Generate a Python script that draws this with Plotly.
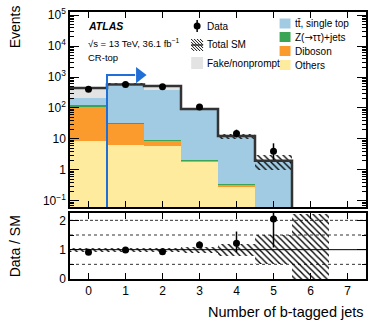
import numpy as np
import plotly.graph_objects as go

# ---------------- data ----------------
bins = [0, 1, 2, 3, 4, 5, 6]
others = [8.8, 6.5, 6.0, 1.85, 0.30, 0.01, 0.001]
diboson = [105, 24, 2.8, 0.20, 0.04, 0.005, 0.001]
zjets = [12, 2.0, 0.6, 0.05, 0.01, 0.001, 0.0005]
ttbar = [80, 490, 380, 86, 11.6, 1.9, 0.02]
fake = [234, 55, 125, 4.0, 0.35, 0.04, 0.001]
rel_unc = [0.07, 0.07, 0.07, 0.10, 0.20, 0.50, 1.20]

data_bins = [0, 1, 2, 3, 4, 5]
data = [400, 570, 480, 107, 15, 4]
data_up = [20, 24, 22, 11, 4.9, 3.2]
data_dn = [20, 24, 22, 10, 3.8, 1.9]

cut_value = 0.5
arrow_y = 1150
arrow_head_x = 1.38

y_tickvals = [0.1, 1, 10, 100, 1000, 10000, 100000]
y_ticktext = ["10<sup>−1</sup>", "1", "10", "10<sup>2</sup>", "10<sup>3</sup>",
              "10<sup>4</sup>", "10<sup>5</sup>"]

colors = {"ttbar": "#a1cbe2", "z": "#3aa655", "diboson": "#fb9a2d",
          "others": "#ffeb9e", "fake": "#e3e3e3"}
FONT = "Liberation Sans, Arial, sans-serif"

# ---------------- derived ----------------
bins_a = np.array(bins, float)
comps = [("others", others), ("diboson", diboson), ("z", zjets),
         ("ttbar", ttbar), ("fake", fake)]
total = np.sum([np.array(v, float) for _, v in comps], axis=0)
unc = total * np.array(rel_unc)

fig = go.Figure()

hatch = dict(shape="\\", fgcolor="black", bgcolor="rgba(0,0,0,0)",
             size=4.5, solidity=0.3, fillmode="replace")

# stacked histogram (explicit cumulative bases, overlay mode)
cum = np.zeros(len(bins))
for name, vals in comps:
    v = np.array(vals, float)
    b = np.where(cum > 0, cum, 1e-4)
    top = cum + v
    fig.add_trace(go.Bar(x=bins_a, base=b, y=top - b, width=1.0,
                         marker=dict(color=colors[name], line=dict(width=0)),
                         xaxis="x", yaxis="y", showlegend=False, hoverinfo="skip"))
    cum = top

# uncertainty band on main
fig.add_trace(go.Bar(x=bins_a, base=total - unc, y=2 * unc, width=1.0,
                     marker=dict(color="rgba(0,0,0,0)", line=dict(width=0), pattern=hatch),
                     xaxis="x", yaxis="y", showlegend=False, hoverinfo="skip"))

# total SM step line
edges = np.concatenate([bins_a - 0.5, [bins_a[-1] + 0.5]])
fig.add_trace(go.Scatter(x=edges, y=np.concatenate([total, [total[-1]]]),
                         mode="lines", line=dict(color="#333333", width=2.5, shape="hv"),
                         xaxis="x", yaxis="y", showlegend=False, hoverinfo="skip"))

# data
fig.add_trace(go.Scatter(x=data_bins, y=data, mode="markers",
                         marker=dict(color="black", size=7),
                         error_y=dict(type="data", array=data_up, arrayminus=data_dn,
                                      color="black", thickness=1.5, width=0),
                         xaxis="x", yaxis="y", showlegend=False, hoverinfo="skip"))

# cut arrow
arrow_col = "#1f6fd6"
fig.add_trace(go.Scatter(x=[cut_value, cut_value, arrow_head_x - 0.12],
                         y=[1e-3, arrow_y, arrow_y], mode="lines",
                         line=dict(color=arrow_col, width=2),
                         xaxis="x", yaxis="y", showlegend=False, hoverinfo="skip"))
fig.add_trace(go.Scatter(x=[arrow_head_x], y=[arrow_y], mode="markers",
                         marker=dict(symbol="triangle-right", size=14, color=arrow_col),
                         xaxis="x", yaxis="y", showlegend=False, hoverinfo="skip"))

# ---------------- ratio ----------------
ratio_band_base = 1 - np.array(rel_unc)
fig.add_trace(go.Bar(x=bins_a, base=ratio_band_base, y=2 * np.array(rel_unc), width=1.0,
                     marker=dict(color="rgba(0,0,0,0)", line=dict(width=0), pattern=hatch),
                     xaxis="x2", yaxis="y2", showlegend=False, hoverinfo="skip"))
tot_d = total[:len(data)]
ratio = np.array(data) / tot_d
fig.add_trace(go.Scatter(x=data_bins, y=ratio, mode="markers",
                         marker=dict(color="black", size=7),
                         error_y=dict(type="data", array=np.array(data_up) / tot_d,
                                      arrayminus=np.array(data_dn) / tot_d,
                                      color="black", thickness=1.5, width=0),
                         xaxis="x2", yaxis="y2", showlegend=False, hoverinfo="skip"))

# ---------------- layout ----------------
L, R, T, B = 70, 2, 12, 42
Wd, Ht = 370, 321
PW, PH = Wd - L - R, Ht - T - B


def px(x):
    return (x - L) / PW


def py(y):
    return (Ht - B - y) / PH


main_dom = [py(207), 1.0]
ratio_dom = [0.0, py(213)]

axis_common = dict(showline=True, linecolor="black", linewidth=1.5, mirror="ticks",
                   ticks="inside", tickcolor="black", showgrid=False, zeroline=False,
                   tickfont=dict(family=FONT, size=12, color="black"))

shapes = []
# ratio reference lines
for yv, dash, col in [(0.5, "dot", "#333"), (1.5, "dot", "#333"), (2.0, "3px,2px", "#333"),
                      (1.0, "solid", "black")]:
    shapes.append(dict(type="line", xref="x2 domain", yref="y2", x0=0, x1=1, y0=yv, y1=yv,
                       line=dict(color=col, width=1, dash=dash), layer="below"))

annotations = []


def text(x, y, s, size=10, anchor="left", **kw):
    annotations.append(dict(x=px(x), y=py(y), xref="paper", yref="paper", text=s,
                            showarrow=False, xanchor=anchor, yanchor="middle",
                            font=dict(family=FONT, size=size, color="black"), **kw))


text(86, 26, "<b><i>ATLAS</i></b>", 10.5)
text(86, 43, "√s = 13 TeV, 36.1 fb<sup>−1</sup>", 9.5)
text(86, 58, "CR-top", 9.5)

# legend col 1
shapes.append(dict(type="line", xref="paper", yref="paper", x0=px(198), x1=px(198),
                   y0=py(20), y1=py(32), line=dict(color="black", width=1.5)))
shapes.append(dict(type="circle", xref="paper", yref="paper", x0=px(194.5), x1=px(201.5),
                   y0=py(29.5), y1=py(22.5), fillcolor="black", line=dict(width=0)))
text(206, 26, "Data", 10)
# hatch swatch
hx0, hx1, hy0, hy1 = 192, 204, 39, 51
for k in range(-12, 13, 3):
    xa, ya, xb, yb = hx0 + k, hy0, hx0 + k + 12, hy1
    if xa < hx0:
        ya += hx0 - xa
        xa = hx0
    if xb > hx1:
        yb -= xb - hx1
        xb = hx1
    if xb - xa > 0.5:
        shapes.append(dict(type="line", xref="paper", yref="paper", x0=px(xa), x1=px(xb),
                           y0=py(ya), y1=py(yb), line=dict(color="#111", width=1)))
shapes.append(dict(type="line", xref="paper", yref="paper", x0=px(hx0), x1=px(hx1),
                   y0=py(45), y1=py(45), line=dict(color="#333", width=1.5)))
text(206, 45, "Total SM", 10)
shapes.append(dict(type="rect", xref="paper", yref="paper", x0=px(192), x1=px(204),
                   y0=py(69), y1=py(57), fillcolor=colors["fake"], line=dict(width=0)))
text(206, 63, "Fake/nonprompt", 10)

# legend col 2
arrow_span = "<span style='font-family:DejaVu Sans'>→</span>"
for yc, key, lab in [(23.5, "ttbar", "tt̄, single top"),
                     (37, "z", "Z(" + arrow_span + "ττ)+jets"),
                     (51, "diboson", "Diboson"), (65, "others", "Others")]:
    shapes.append(dict(type="rect", xref="paper", yref="paper", x0=px(281), x1=px(292),
                       y0=py(yc + 5), y1=py(yc - 5), fillcolor=colors[key], line=dict(width=0)))
    text(295, yc, lab, 10)

# axis titles
text(15, 27, "Events", 14, anchor="center", textangle=-90)
text(15, 246, "Data / SM", 14, anchor="center", textangle=-90)
text(368, 312, "Number of b-tagged jets", 14.5, anchor="right")

minor_log = [m * 10.0 ** e for e in range(-2, 6) for m in range(2, 10)]

fig.update_layout(
    width=Wd, height=Ht, margin=dict(l=L, r=R, t=T, b=B),
    paper_bgcolor="white", plot_bgcolor="white",
    barmode="overlay", bargap=0,
    xaxis=dict(domain=[0, 1], anchor="y", range=[-0.5, 7.5], tickvals=bins + [7],
               showticklabels=False, ticklen=6, **axis_common),
    yaxis=dict(domain=main_dom, anchor="x", type="log", range=[-1.2, 5.1],
               tickvals=y_tickvals, ticktext=y_ticktext, ticklen=9,
               minor=dict(tickmode="array", tickvals=minor_log, ticklen=4,
                          ticks="inside", tickcolor="black"),
               **axis_common),
    xaxis2=dict(domain=[0, 1], anchor="y2", range=[-0.5, 7.5], tickvals=bins + [7],
                ticklen=6, **axis_common),
    yaxis2=dict(domain=ratio_dom, anchor="x2", range=[0, 2.25], tickvals=[0, 1, 2],
                ticklen=9, minor=dict(tickmode="array", tickvals=[0.5, 1.5], ticklen=4,
                                      ticks="inside", tickcolor="black"),
                **axis_common),
    shapes=shapes, annotations=annotations, showlegend=False,
)

fig.write_html("out.html")
